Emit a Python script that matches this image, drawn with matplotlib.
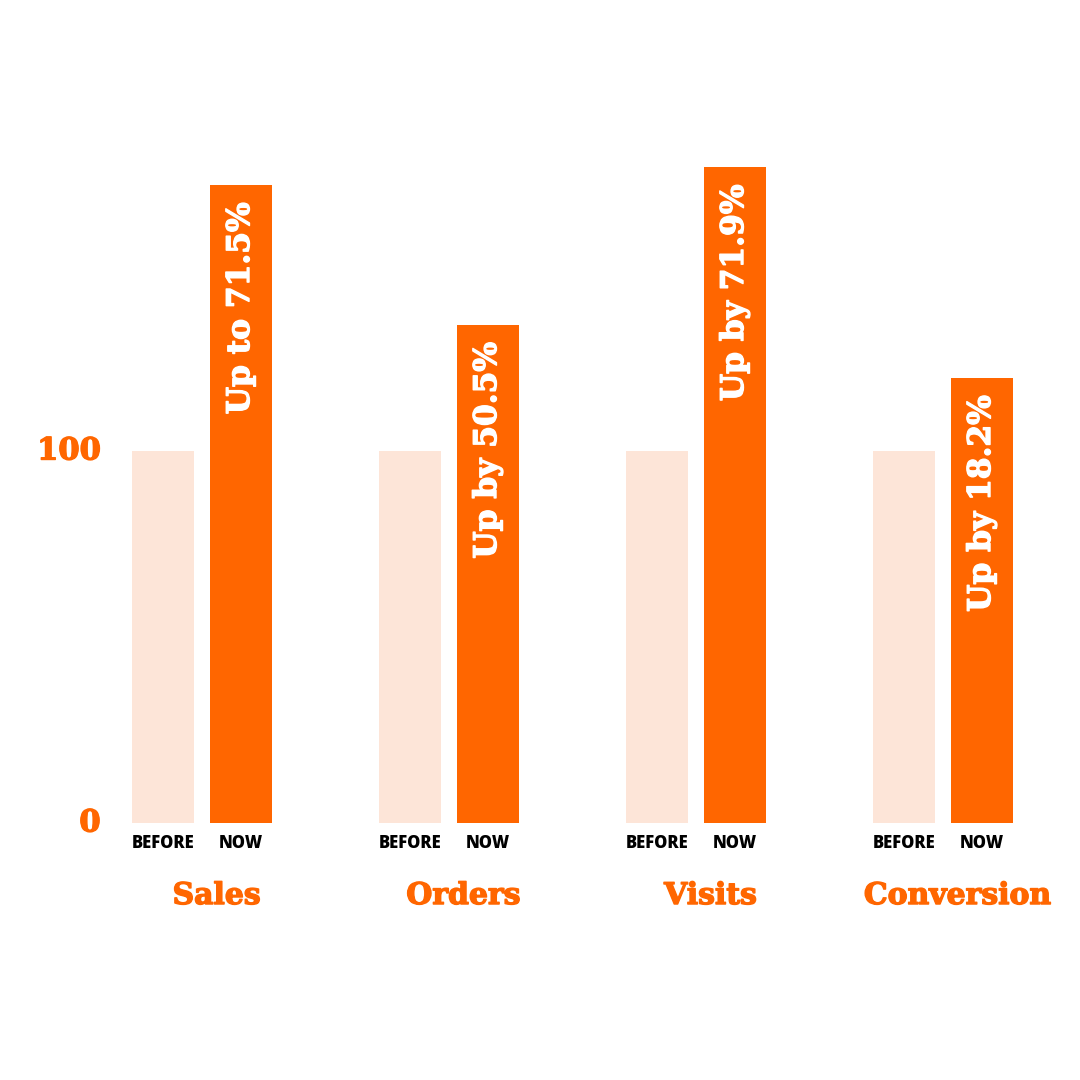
import matplotlib
matplotlib.use("Agg")
import matplotlib.pyplot as plt
import matplotlib.patheffects as pe

categories = ["Sales", "Orders", "Visits", "Conversion"]
before_values = [100, 100, 100, 100]
now_values = [171.5, 134.0, 176.3, 119.6]
now_labels = ["Up to 71.5%", "Up by 50.5%", "Up by 71.9%", "Up by 18.2%"]
bar_labels = ["BEFORE", "NOW"]
ytick_values = [0, 100]

ORANGE = "#FF6600"
PEACH = "#FDE5D8"
DISPLAY_FONT = ["DejaVu Serif"]

def heavy(color, lw=1.0):
    return [pe.withStroke(linewidth=lw, foreground=color)]

fig = plt.figure(figsize=(10.8, 10.8), dpi=100)
ax = fig.add_axes([0, 0, 1, 1])
ax.set_xlim(-0.8168, 3.5557)
ax.set_ylim(-69.09, 221.24)
ax.axis("off")

off = 0.157
width = 0.251
xs = list(range(len(categories)))
ax.bar([x - off for x in xs], before_values, width=width, color=PEACH)
ax.bar([x + off for x in xs], now_values, width=width, color=ORANGE)

for x, v, lab, cat in zip(xs, now_values, now_labels, categories):
    ax.text(x + off, v - 4.6, lab, rotation=90, ha="center", va="top",
            color="white", fontsize=22.5, fontweight="bold", family=DISPLAY_FONT,
            path_effects=heavy("white", 1.0))
    ax.text(x - off, -5.6, bar_labels[0], ha="center", va="center",
            fontsize=12, fontweight="heavy", family=["Open Sans"], color="black")
    ax.text(x + off, -5.6, bar_labels[1], ha="center", va="center",
            fontsize=12, fontweight="heavy", family=["Open Sans"], color="black")
    ax.text(x + 0.06, -19.5, cat, ha="center", va="center", color=ORANGE,
            fontsize=21.5, fontweight="bold", family=DISPLAY_FONT,
            path_effects=heavy(ORANGE, 1.0))

for t in ytick_values:
    ax.text(-0.41, t, str(t), ha="right", va="center", color=ORANGE,
            fontsize=22, fontweight="bold", family=DISPLAY_FONT,
            path_effects=heavy(ORANGE, 1.0))

fig.savefig("out.png", dpi=100, facecolor="white")
